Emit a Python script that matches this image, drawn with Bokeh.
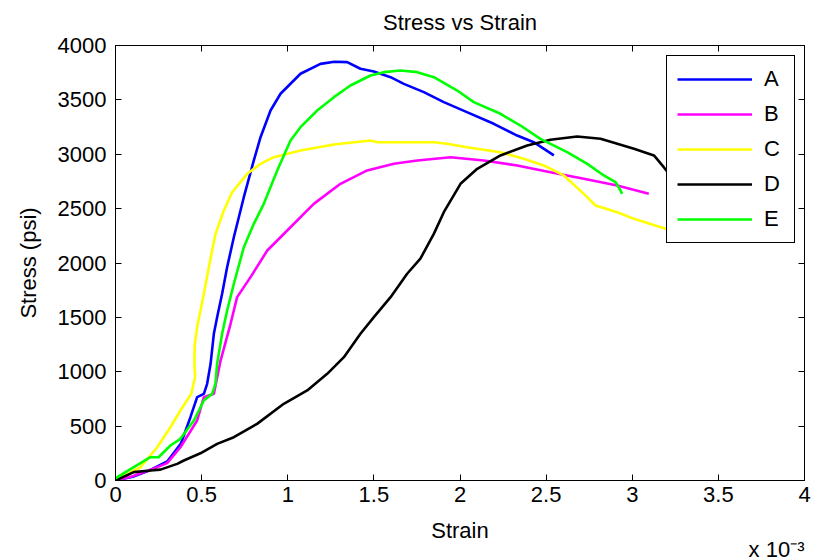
from bokeh.plotting import figure
from bokeh.models import (LinearAxis, FixedTicker, Legend, LegendItem, Title,
                          Range1d, NumeralTickFormatter, CustomJSTickFormatter)
from bokeh.embed import file_html
from bokeh.resources import INLINE

# Strain values in units of 10^-3, stress in psi
A_x = [0, 0.10, 0.20, 0.30, 0.38, 0.435, 0.474, 0.513, 0.532, 0.552, 0.571, 0.59, 0.619, 0.648,
       0.687, 0.745, 0.803, 0.842, 0.90, 0.958, 1.074, 1.19, 1.27, 1.345, 1.422, 1.50, 1.597,
       1.674, 1.79, 1.906, 2.04, 2.196, 2.332, 2.428, 2.545]
A_y = [0, 35, 95, 175, 340, 582, 766, 797, 889, 1073, 1349, 1502, 1717, 1961,
       2237, 2605, 2943, 3157, 3402, 3556, 3740, 3831, 3850, 3847, 3786, 3760, 3709,
       3647, 3571, 3479, 3387, 3280, 3172, 3111, 2989]

B_x = [0, 0.10, 0.203, 0.30, 0.377, 0.474, 0.513, 0.571, 0.61, 0.668, 0.706, 0.784, 0.881,
       0.997, 1.151, 1.306, 1.461, 1.616, 1.752, 1.945, 2.138, 2.332, 2.525, 2.719, 2.913, 3.096]
B_y = [0, 40, 98, 160, 306, 552, 766, 797, 1103, 1441, 1686, 1870, 2115,
       2299, 2544, 2728, 2851, 2912, 2943, 2973, 2943, 2897, 2835, 2774, 2713, 2636]

C_x = [0, 0.145, 0.242, 0.319, 0.377, 0.44, 0.462, 0.458, 0.46, 0.474, 0.513, 0.542, 0.561,
       0.581, 0.629, 0.677, 0.765, 0.842, 0.919, 1.074, 1.268, 1.48, 1.52, 1.848, 1.925, 2.04,
       2.235, 2.37, 2.486, 2.603, 2.719, 2.787, 2.913, 3.01, 3.193, 3.30]
C_y = [0, 122, 306, 490, 644, 797, 950, 1100, 1250, 1410, 1717, 1961, 2115,
       2268, 2483, 2651, 2820, 2912, 2973, 3034, 3090, 3126, 3111, 3111, 3096, 3065,
       3019, 2958, 2897, 2805, 2636, 2529, 2467, 2406, 2314, 2270]

D_x = [0, 0.106, 0.203, 0.261, 0.358, 0.397, 0.493, 0.59, 0.687, 0.822, 0.977, 1.113, 1.229,
       1.326, 1.422, 1.5, 1.597, 1.693, 1.77, 1.848, 1.906, 2.003, 2.1, 2.235, 2.39, 2.525,
       2.68, 2.816, 3.01, 3.126, 3.183, 3.30]
D_y = [0, 77, 92, 100, 153, 184, 250, 337, 398, 521, 705, 828, 981,
       1134, 1349, 1502, 1686, 1901, 2040, 2268, 2467, 2728, 2866, 2989, 3080, 3133,
       3163, 3142, 3050, 2989, 2881, 2650]

E_x = [0, 0.106, 0.203, 0.25, 0.319, 0.377, 0.455, 0.513, 0.561, 0.58, 0.59, 0.619, 0.648,
       0.687, 0.745, 0.803, 0.861, 0.939, 1.016, 1.074, 1.171, 1.268, 1.364, 1.48, 1.558,
       1.655, 1.752, 1.848, 1.984, 2.08, 2.235, 2.351, 2.467, 2.622, 2.739, 2.835, 2.903,
       2.932, 2.941]
E_y = [20, 122, 214, 214, 322, 383, 552, 736, 797, 889, 1073, 1349, 1563,
       1809, 2145, 2360, 2544, 2851, 3126, 3249, 3402, 3525, 3632, 3724, 3755,
       3770, 3755, 3709, 3586, 3479, 3372, 3264, 3142, 3019, 2912, 2805, 2743,
       2667, 2636]

series_names = ["A", "B", "C", "D", "E"]
series_colors = ["#0000FF", "#FF00FF", "#FFFF00", "#000000", "#00FF00"]
series_x = [A_x, B_x, C_x, D_x, E_x]
series_y = [A_y, B_y, C_y, D_y, E_y]

x_ticks = [0, 0.5, 1, 1.5, 2, 2.5, 3, 3.5, 4]
y_ticks = [0, 500, 1000, 1500, 2000, 2500, 3000, 3500, 4000]

FONT = "Liberation Sans"
FS = "22px"

p = figure(width=814, height=560, x_range=Range1d(0, 4), y_range=Range1d(0, 4000),
           output_backend="svg", toolbar_location=None,
           min_border_left=115, min_border_right=10, min_border_top=44, min_border_bottom=80)
p.background_fill_color = "white"
p.border_fill_color = "white"
p.outline_line_color = "black"
p.outline_line_alpha = 1.0
p.outline_line_width = 1
p.xgrid.visible = False
p.ygrid.visible = False

p.title.text = "Stress vs Strain"
p.title.align = "center"
p.title.vertical_align = "top"
p.title.text_font = FONT
p.title.text_font_size = FS
p.title.text_font_style = "normal"
p.title.text_color = "black"
p.title.text_line_height = 1.0
p.title.standoff = 18

for ax in (p.xaxis[0], p.yaxis[0]):
    ax.major_tick_in = 6
    ax.major_tick_out = 0
    ax.minor_tick_in = 0
    ax.minor_tick_out = 0
    ax.axis_line_color = "black"
    ax.major_tick_line_color = "black"
    ax.major_label_text_font = FONT
    ax.major_label_text_font_size = FS
    ax.major_label_text_color = "black"
    ax.axis_label_text_font = FONT
    ax.axis_label_text_font_size = FS
    ax.axis_label_text_font_style = "normal"
    ax.axis_label_text_color = "black"

p.xaxis[0].ticker = FixedTicker(ticks=x_ticks)
p.xaxis[0].formatter = NumeralTickFormatter(format="0.[0]")
p.xaxis[0].major_label_standoff = 6
p.xaxis[0].axis_label = "Strain"
p.xaxis[0].axis_label_standoff = 13

p.yaxis[0].ticker = FixedTicker(ticks=y_ticks)
p.yaxis[0].major_label_standoff = 9
p.yaxis[0].axis_label = "Stress (psi)"
p.yaxis[0].axis_label_standoff = 14

blank = CustomJSTickFormatter(code="return ''")
for loc, tks in (("above", x_ticks), ("right", y_ticks)):
    ax = LinearAxis(ticker=FixedTicker(ticks=tks), formatter=blank,
                    axis_line_color=None, major_tick_in=6, major_tick_out=0,
                    minor_tick_in=0, minor_tick_out=0, major_label_standoff=0,
                    major_tick_line_color="black")
    p.add_layout(ax, loc)

# exponent note "x 10^-3" at the bottom right
scale_note = Title(text="x 10\u207b\u00b3", align="right", standoff=-22,
                   text_font=FONT, text_font_size=FS, text_font_style="normal",
                   text_color="black")
p.add_layout(scale_note, "below")

items = []
for name, color, xs, ys in zip(series_names, series_colors, series_x, series_y):
    r = p.line(xs, ys, line_color=color, line_width=2.6)
    items.append(LegendItem(label=name, renderers=[r]))

legend = Legend(items=items, location=(551, 237), glyph_width=75, glyph_height=22,
                label_height=22, label_standoff=12, spacing=9, padding=10, margin=0,
                label_text_font=FONT, label_text_font_size=FS, label_text_color="black",
                border_line_color="black", border_line_width=1, border_line_alpha=1.0,
                background_fill_color="white", background_fill_alpha=1.0)
p.add_layout(legend, "center")

open("out.html", "w").write(file_html(p, INLINE))
